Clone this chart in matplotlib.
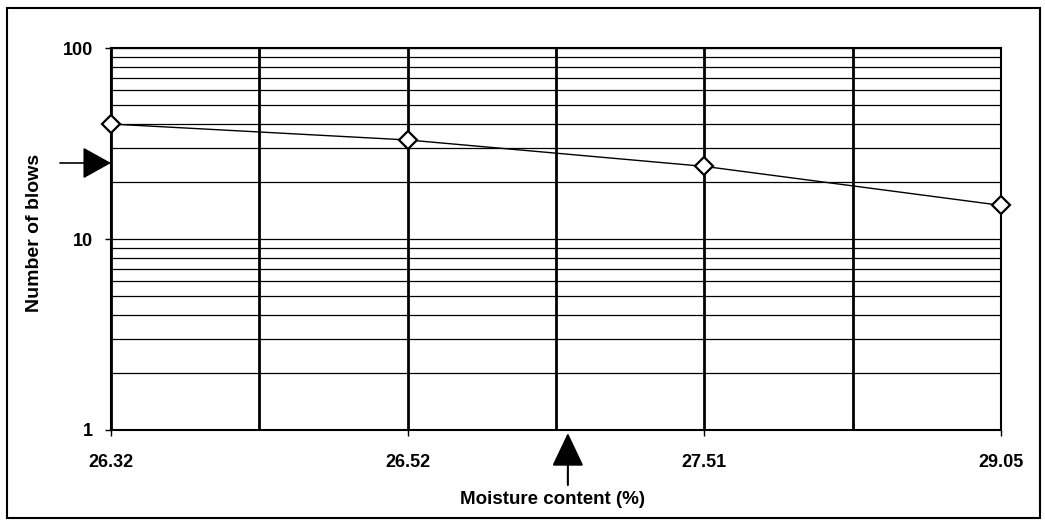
import matplotlib.pyplot as plt
from matplotlib.patches import Rectangle
from matplotlib.ticker import FixedLocator, NullFormatter

# Data
moisture_labels = ['26.32', '26.52', '27.51', '29.05']
blows = [40, 33, 24, 15]
target_blows = 25      # arrow on the y axis
target_position = 1.54  # arrow on the x axis (category units)

plt.rcParams['font.family'] = ['Liberation Sans', 'DejaVu Sans']

fig = plt.figure(figsize=(10.45, 5.23), dpi=100)
ax = fig.add_axes([111 / 1045, 1 - 430 / 523, 890 / 1045, 382 / 523])

x = list(range(len(moisture_labels)))
ax.set_yscale('log')
ax.set_ylim(1, 100)
ax.set_xlim(0, len(x) - 1)

# Horizontal grid at every log step
minor_vals = [v * d for d in (1, 10) for v in range(2, 10)]
for v in minor_vals + [10, 100]:
    ax.axhline(v, color='black', lw=0.9, zorder=1)

# Vertical grid at every half category
for i in range(2 * (len(x) - 1) + 1):
    ax.axvline(i / 2, color='black', lw=2, zorder=1)

ax.plot(x, blows, color='black', lw=1, marker='D', markersize=9,
        markerfacecolor='white', markeredgecolor='black', markeredgewidth=1.6,
        zorder=3, clip_on=False)

ax.set_xticks(x)
ax.set_xticklabels(moisture_labels, fontsize=13, fontweight='bold')
ax.set_yticks([1, 10, 100])
ax.set_yticklabels(['1', '10', '100'], fontsize=13, fontweight='bold')
ax.yaxis.set_minor_locator(FixedLocator([]))
ax.yaxis.set_minor_formatter(NullFormatter())
ax.tick_params(axis='both', length=4, width=1, color='black', direction='out')
ax.tick_params(axis='x', pad=13)
ax.tick_params(axis='y', pad=9)

for s in ax.spines.values():
    s.set_linewidth(1.5)
    s.set_color('black')

fig.text(553 / 1045, 1 - 500 / 523, 'Moisture content (%)', fontsize=13.5,
         fontweight='bold', ha='center', va='center')
fig.text(35 / 1045, 1 - 233 / 523, 'Number of blows', fontsize=14,
         fontweight='bold', ha='center', va='center', rotation=90)

# Arrows marking 25 blows and the liquid limit
ax.annotate('', xy=(0, target_blows), xycoords='data',
            xytext=(-0.172, target_blows), textcoords='data',
            arrowprops=dict(arrowstyle='-|>,head_length=0.9,head_width=0.5',
                            color='black', lw=1.2, mutation_scale=20,
                            shrinkA=0, shrinkB=0),
            annotation_clip=False)
ax.annotate('', xy=(target_position, -0.008), xycoords=('data', 'axes fraction'),
            xytext=(target_position, -0.144), textcoords=('data', 'axes fraction'),
            arrowprops=dict(arrowstyle='-|>,head_length=1.05,head_width=0.5',
                            color='black', lw=1.5, mutation_scale=20,
                            shrinkA=0, shrinkB=0),
            annotation_clip=False)

# Outer frame
fig.patches.append(Rectangle((7 / 1045, 5 / 523), 1033 / 1045, 510 / 523,
                             transform=fig.transFigure, fill=False,
                             edgecolor='black', lw=1.5))

fig.savefig('out.png', dpi=100)
